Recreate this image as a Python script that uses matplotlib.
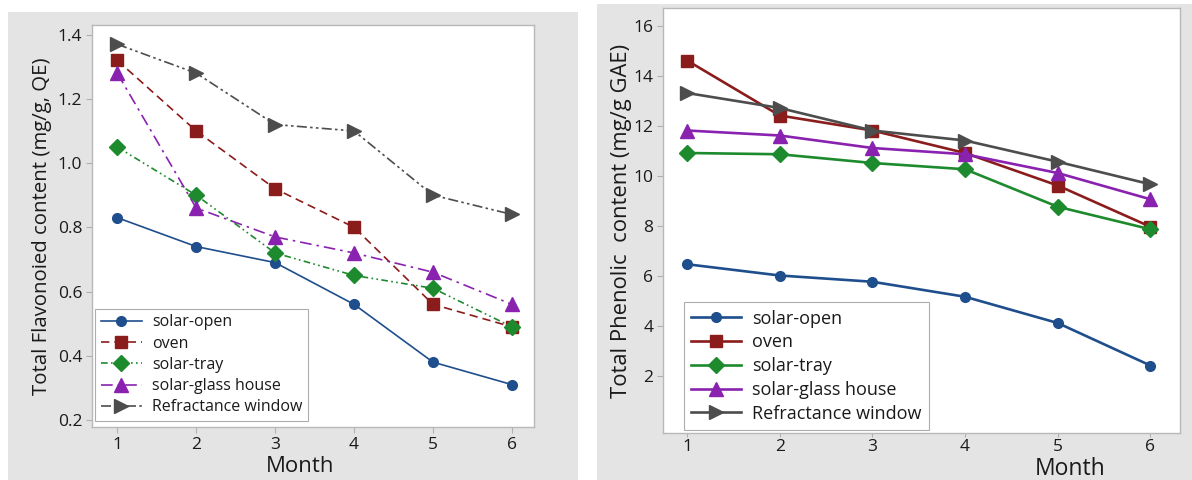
import matplotlib
matplotlib.use("Agg")
import matplotlib.pyplot as plt
from matplotlib.patches import Rectangle

plt.rcParams['font.family'] = ['Open Sans', 'DejaVu Sans']

months = [1, 2, 3, 4, 5, 6]
series_names = ["solar-open", "oven", "solar-tray", "solar-glass house", "Refractance window"]

# Total flavonoid content (mg/g, QE)
flav_solar_open = [0.83, 0.74, 0.69, 0.56, 0.38, 0.31]
flav_oven = [1.32, 1.10, 0.92, 0.80, 0.56, 0.49]
flav_solar_tray = [1.05, 0.90, 0.72, 0.65, 0.61, 0.49]
flav_glass_house = [1.28, 0.86, 0.77, 0.72, 0.66, 0.56]
flav_refractance = [1.37, 1.28, 1.12, 1.10, 0.90, 0.84]

# Total phenolic content (mg/g GAE)
phen_solar_open = [6.45, 6.0, 5.75, 5.15, 4.1, 2.4]
phen_oven = [14.6, 12.4, 11.8, 10.9, 9.6, 7.95]
phen_solar_tray = [10.9, 10.85, 10.5, 10.25, 8.75, 7.85]
phen_glass_house = [11.8, 11.6, 11.1, 10.85, 10.1, 9.05]
phen_refractance = [13.3, 12.7, 11.8, 11.4, 10.55, 9.65]

flav_ticks = [0.2, 0.4, 0.6, 0.8, 1.0, 1.2, 1.4]
phen_ticks = [2, 4, 6, 8, 10, 12, 14, 16]

colors = ["#1f4e8c", "#8b1c1c", "#1e8a2e", "#8a22b0", "#4d4d4d"]
markers = ["o", "s", "D", "^", ">"]
msizes = [7, 8, 8, 9.5, 9.5]
flav_styles = ["-", (0, (5, 3)), (0, (4, 2, 1, 2, 1, 2)), (0, (7, 3, 1.5, 3)), (0, (6, 2, 1.5, 2, 1.5, 2))]
text_color = "#1a1a1a"

W, H = 1192, 480
fig = plt.figure(figsize=(W / 100, H / 100), dpi=100)
fig.patch.set_facecolor("white")

# grey panel backgrounds
fig.add_artist(Rectangle((8 / W, 0), (578 - 8) / W, 1 - 12 / H, transform=fig.transFigure,
                         facecolor="#e4e4e4", edgecolor="none", zorder=0))
fig.add_artist(Rectangle((597 / W, 0), (1192 - 597) / W, 1 - 4 / H, transform=fig.transFigure,
                         facecolor="#e4e4e4", edgecolor="none", zorder=0))

ax1 = fig.add_axes([92 / W, 1 - 427 / H, (534 - 92) / W, (427 - 25) / H])
ax2 = fig.add_axes([663 / W, 1 - 433 / H, (1180 - 663) / W, (433 - 8) / H])

flav = [flav_solar_open, flav_oven, flav_solar_tray, flav_glass_house, flav_refractance]
phen = [phen_solar_open, phen_oven, phen_solar_tray, phen_glass_house, phen_refractance]

for vals, name, c, m, ms, ls in zip(flav, series_names, colors, markers, msizes, flav_styles):
    ax1.plot(months, vals, color=c, linestyle=ls, linewidth=1.2, marker=m,
             markersize=ms, markerfacecolor=c, markeredgecolor=c, label=name)

for vals, name, c, m, ms in zip(phen, series_names, colors, markers, msizes):
    ax2.plot(months, vals, color=c, linestyle="-", linewidth=1.9, marker=m,
             markersize=ms, markerfacecolor=c, markeredgecolor=c, label=name)

ax1.set_xlim(0.68, 6.28)
ax1.set_ylim(0.178, 1.43)
ax1.set_yticks(flav_ticks)
ax1.set_yticklabels([f"{t:.1f}" for t in flav_ticks])
ax2.set_xlim(0.74, 6.32)
ax2.set_ylim(-0.3, 16.7)
ax2.set_yticks(phen_ticks)

for ax in (ax1, ax2):
    ax.set_facecolor("white")
    ax.set_xticks(months)
    for s in ax.spines.values():
        s.set_color("#b8b8b8")
        s.set_linewidth(1.0)
    ax.tick_params(axis="both", colors="#b0b0b0", labelcolor=text_color,
                   labelsize=12.5, length=4, width=0.8, pad=3)
ax2.tick_params(axis="x", length=3, pad=1)

ax1.set_ylabel("Total Flavonoied content (mg/g, QE)", fontsize=14.7, color=text_color, labelpad=4)
ax2.set_ylabel("Total Phenolic  content (mg/g GAE)", fontsize=15.8, color=text_color, labelpad=1)

fig.text(300 / W, 1 - 466 / H, "Month", fontsize=16, color=text_color, ha="center", va="center")
fig.text(1070 / W, 1 - 469 / H, "Month", fontsize=16.5, color=text_color, ha="center", va="center")

leg1 = ax1.legend(loc="lower left", bbox_to_anchor=(0.007, 0.015), fontsize=11.5, frameon=True,
                  fancybox=False, edgecolor="#999999", handlelength=2.6, labelspacing=0.33,
                  borderpad=0.35, handletextpad=0.6, borderaxespad=0)
leg1.get_frame().set_linewidth(0.8)
leg2 = ax2.legend(loc="lower left", bbox_to_anchor=(0.04, 0.007), fontsize=13, frameon=True,
                  fancybox=False, edgecolor="#999999", handlelength=2.8, labelspacing=0.32,
                  borderpad=0.4, handletextpad=0.6, borderaxespad=0)
leg2.get_frame().set_linewidth(0.8)
for leg in (leg1, leg2):
    for t in leg.get_texts():
        t.set_color(text_color)

fig.savefig("out.png", dpi=100)
